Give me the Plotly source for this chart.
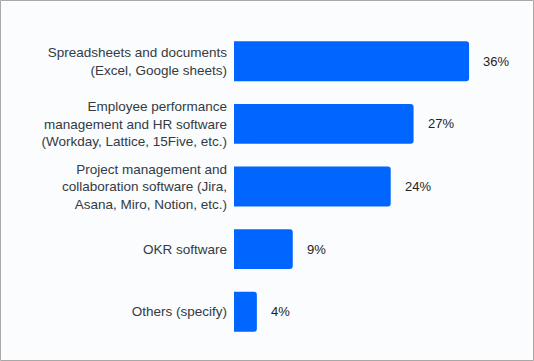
import plotly.graph_objects as go

categories = [
    "Spreadsheets and documents<br>(Excel, Google sheets)",
    "Employee performance<br>management and HR software<br>(Workday, Lattice, 15Five, etc.)",
    "Project management and<br>collaboration software (Jira,<br>Asana, Miro, Notion, etc.)",
    "OKR software",
    "Others (specify)",
]
values = [36, 27.5, 24, 9, 3.5]
value_labels = ["36%", "27%", "24%", "9%", "4%"]

W, H = 534, 361
L, R, T, B = 234, 10, 30, 18
pw, ph = W - L - R, H - T - B

fig = go.Figure(go.Bar(
    x=values, y=categories, orientation="h",
    marker=dict(color="#0066FF", line=dict(width=0)),
    hoverinfo="skip",
))

for v, c, t in zip(values, categories, value_labels):
    fig.add_annotation(x=v, y=c, text=t, showarrow=False, xanchor="left",
                       xshift=12, font=dict(size=13, color="#222222",
                       family="Liberation Sans, Arial, sans-serif"))

fig.add_shape(type="rect", xref="paper", yref="paper",
              x0=(-L + 0.5) / pw, x1=(pw + R - 0.5) / pw,
              y0=(-B + 0.5) / ph, y1=(ph + T - 0.5) / ph,
              line=dict(color="#a8a8a8", width=1), fillcolor="rgba(0,0,0,0)",
              layer="above")

fig.update_layout(
    width=W, height=H,
    margin=dict(l=L, r=R, t=T, b=B, pad=0),
    paper_bgcolor="#fbfcfd", plot_bgcolor="#fbfcfd",
    bargap=0.363, barcornerradius=3,
    showlegend=False,
    font=dict(family="Liberation Sans, Arial, sans-serif", size=13.5, color="#333a44"),
)
fig.update_xaxes(range=[0, pw / 6.53], visible=False, fixedrange=True)
fig.update_yaxes(autorange="reversed", showgrid=False, zeroline=False,
                 showline=False, ticks="", ticklabelstandoff=6, fixedrange=True)

fig.write_html("out.html", config={"displayModeBar": False},
               post_script="document.body.style.margin='0';document.body.style.overflow='hidden';")
